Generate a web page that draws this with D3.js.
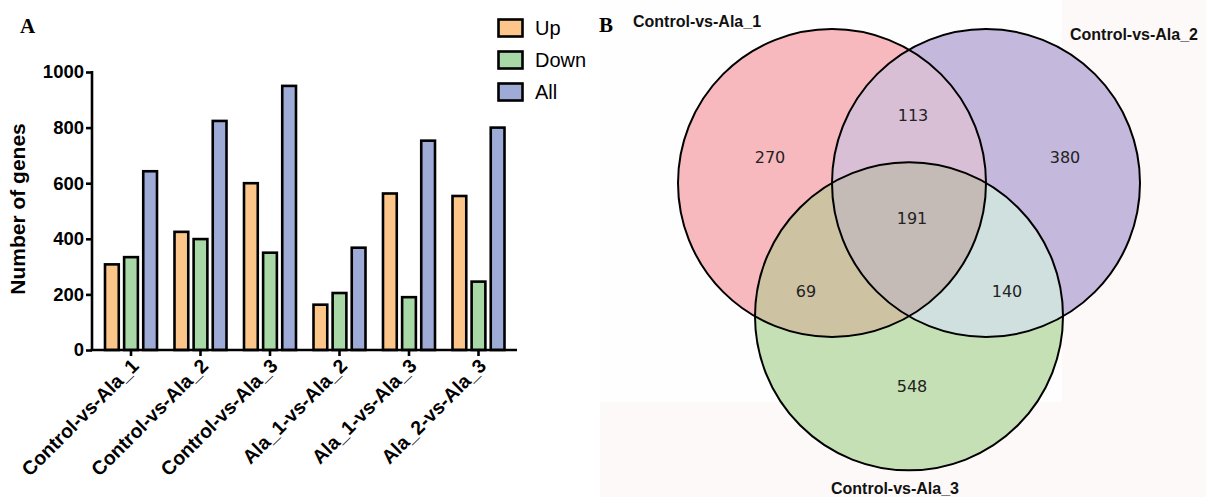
<!DOCTYPE html>
<html><head><meta charset="utf-8">
<script src="https://cdn.jsdelivr.net/npm/d3@7"></script>
<style>html,body{margin:0;padding:0;background:#fff}svg{display:block}</style>
</head><body>
<script>
// ---- Data ----
const categories = ["Control-vs-Ala_1","Control-vs-Ala_2","Control-vs-Ala_3","Ala_1-vs-Ala_2","Ala_1-vs-Ala_3","Ala_2-vs-Ala_3"];
const seriesNames = ["Up","Down","All"];
const upValues   = [308, 425, 600, 163, 563, 554];
const downValues = [334, 399, 350, 205, 190, 246];
const allValues  = [643, 824, 950, 368, 753, 800];
const yTicks = [0, 200, 400, 600, 800, 1000];
const vennSets = ["Control-vs-Ala_1","Control-vs-Ala_2","Control-vs-Ala_3"];
const vennRegions = ["1","2","3","12","13","23","123"];
const vennCounts  = [270, 380, 548, 113, 69, 140, 191];

const W = 1206, H = 497;
const svg = d3.select("body").append("svg").attr("width", W).attr("height", H);
const defs = svg.append("defs");

// ---- Panel backgrounds ----
svg.append("rect").attr("x",600).attr("y",0).attr("width",606).attr("height",H).attr("fill","#fdf9f8");
svg.append("rect").attr("x",600).attr("y",0).attr("width",462).attr("height",402).attr("fill","#fffefe");

// ---- Panel A: grouped bar chart ----
const seriesColors = {Up:"#fcc68b", Down:"#a9d8a7", All:"#9eabd6"};
const y = d3.scaleLinear().domain([0,1000]).range([350,72]);
const x = d3.scaleBand().domain(categories).range([96.25,513.25]).paddingInner(0).paddingOuter(0);
const xs = d3.scaleBand().domain(seriesNames).range([-26,26]).paddingInner(0.28);
const valuesBy = {Up:upValues, Down:downValues, All:allValues};

const gA = svg.append("g");
categories.forEach((c,i)=>{
  const cx = x(c) + x.bandwidth()/2;
  seriesNames.forEach(s=>{
    const v = valuesBy[s][i];
    gA.append("rect")
      .attr("x", cx + xs(s)).attr("width", xs.bandwidth())
      .attr("y", y(v)).attr("height", y(0)-y(v))
      .attr("fill", seriesColors[s]).attr("stroke","#000").attr("stroke-width",2.6);
  });
});

// y axis
const yAxis = d3.axisLeft(y).tickValues(yTicks).tickFormat(d3.format("d")).tickSize(6).tickPadding(2).tickSizeOuter(0);
const gy = gA.append("g").attr("transform","translate(92,0)").call(yAxis);
gy.select(".domain").attr("stroke","#000").attr("stroke-width",2.6).attr("d","M0,71V351");
gy.selectAll(".tick line").attr("stroke","#000").attr("stroke-width",2.6);
gy.selectAll(".tick text").attr("font-family","Liberation Sans, Arial, sans-serif")
  .attr("font-weight","bold").attr("font-size",18.5).attr("fill","#000");

// x axis
const xAxis = d3.axisBottom(x).tickSize(6).tickSizeOuter(0).tickPadding(4);
const gx = gA.append("g").attr("transform","translate(0,350)").call(xAxis);
gx.select(".domain").attr("stroke","#000").attr("stroke-width",2.6).attr("d","M90.7,0H517");
gx.selectAll(".tick line").attr("stroke","#000").attr("stroke-width",2.6);
gx.selectAll(".tick text")
  .attr("font-family","Liberation Sans, Arial, sans-serif").attr("font-weight","bold")
  .attr("font-size",19.5).attr("fill","#000")
  .attr("text-anchor","end").attr("dy",null).attr("y",0)
  .attr("transform","translate(9,17) rotate(-45)");

// y label
gA.append("text").attr("transform","translate(25,209) rotate(-90)")
  .attr("text-anchor","middle").attr("font-family","Liberation Sans, Arial, sans-serif")
  .attr("font-weight","bold").attr("font-size",21).text("Number of genes");

// panel label A
svg.append("text").attr("x",20).attr("y",33).attr("font-family","Liberation Serif, Times New Roman, serif")
  .attr("font-weight","bold").attr("font-size",21).text("A");

// legend
const lg = svg.append("g");
seriesNames.forEach((s,i)=>{
  lg.append("rect").attr("x",498.5).attr("y",19.5+i*32).attr("width",24).attr("height",17)
    .attr("fill",seriesColors[s]).attr("stroke","#000").attr("stroke-width",2.6);
  lg.append("text").attr("x",535).attr("y",35+i*32).attr("font-family","Liberation Sans, Arial, sans-serif")
    .attr("font-size",20).text(s);
});

// ---- Panel B: Venn diagram ----
svg.append("text").attr("x",599).attr("y",32).attr("font-family","Liberation Serif, Times New Roman, serif")
  .attr("font-weight","bold").attr("font-size",21).text("B");

const r = 154;
const circles = [
  {cx:832, cy:183},
  {cx:986, cy:183},
  {cx:909, cy:183 + r*Math.sin(Math.PI/3)}
];
circles.forEach((c,i)=>{
  defs.append("clipPath").attr("id","c"+i).append("circle").attr("cx",c.cx).attr("cy",c.cy).attr("r",r);
});
const regionColor = {"1":"#f8b9be","2":"#c4b9dc","3":"#c6e0b5","12":"#d8bfd6","13":"#cdc2a1","23":"#cfe0df","123":"#c4bab6"};
const gB = svg.append("g");
function circ(parent,i,fill){
  return parent.append("circle").attr("cx",circles[i].cx).attr("cy",circles[i].cy).attr("r",r).attr("fill",fill);
}
circ(gB,0,regionColor["1"]);
circ(gB,1,regionColor["2"]);
circ(gB,2,regionColor["3"]);
circ(gB.append("g").attr("clip-path","url(#c0)"),1,regionColor["12"]);
circ(gB.append("g").attr("clip-path","url(#c0)"),2,regionColor["13"]);
circ(gB.append("g").attr("clip-path","url(#c1)"),2,regionColor["23"]);
circ(gB.append("g").attr("clip-path","url(#c0)").append("g").attr("clip-path","url(#c1)"),2,regionColor["123"]);
circles.forEach((c,i)=>{
  gB.append("circle").attr("cx",c.cx).attr("cy",c.cy).attr("r",r).attr("fill","none")
    .attr("stroke","#000").attr("stroke-width",2);
});

// region label positions derived from circle geometry
const c1=circles[0], c2=circles[1], c3=circles[2];
const regionPos = {
  "1":[c1.cx-62, c1.cy-26],
  "2":[c2.cx+79, c2.cy-26],
  "3":[c3.cx+3, c3.cy+70],
  "12":[(c1.cx+c2.cx)/2+4, c1.cy-68],
  "13":[c1.cx-26, c3.cy-25],
  "23":[c2.cx+21, c3.cy-25],
  "123":[c3.cx+3, c1.cy+35]
};
vennRegions.forEach((k,i)=>{
  gB.append("text").attr("x",regionPos[k][0]).attr("y",regionPos[k][1]+6)
    .attr("text-anchor","middle").attr("font-family","DejaVu Sans, sans-serif")
    .attr("font-size",16).attr("fill","#222").text(vennCounts[i]);
});

const setLabelPos = [[633,27,"start"],[1198,40,"end"],[895,494,"middle"]];
vennSets.forEach((s,i)=>{
  gB.append("text").attr("x",setLabelPos[i][0]).attr("y",setLabelPos[i][1])
    .attr("text-anchor",setLabelPos[i][2]).attr("font-family","Liberation Sans, Arial, sans-serif")
    .attr("font-weight","bold").attr("font-size",16).attr("fill","#111").text(s);
});
</script>
</body></html>
